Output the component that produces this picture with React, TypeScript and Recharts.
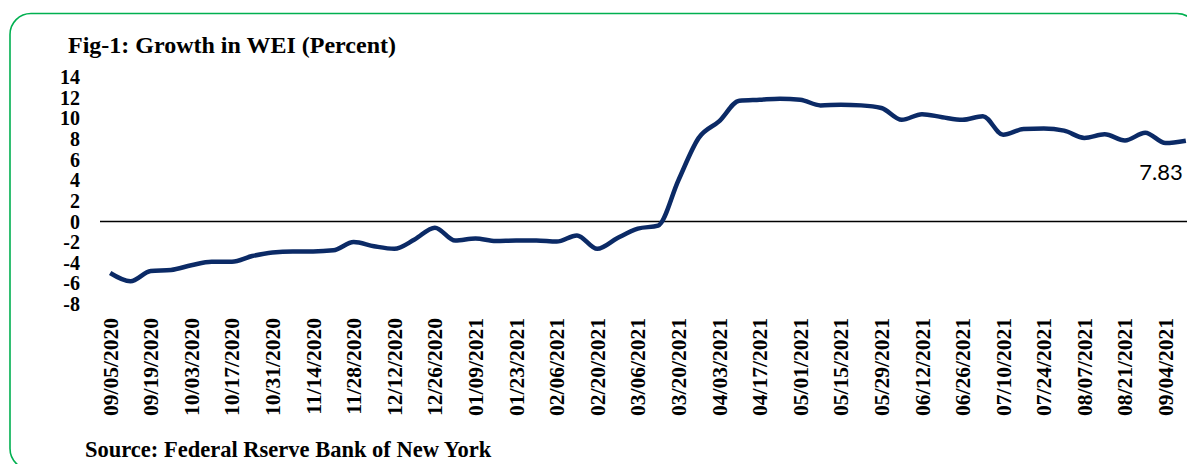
import React from 'react';
import { LineChart, Line, XAxis, YAxis, ReferenceLine, LabelList } from 'recharts';

// --- Data (weekly WEI growth, percent) ---
const weeks = [
  '09/05/2020', '09/12/2020', '09/19/2020', '09/26/2020', '10/03/2020', '10/10/2020',
  '10/17/2020', '10/24/2020', '10/31/2020', '11/07/2020', '11/14/2020', '11/21/2020',
  '11/28/2020', '12/05/2020', '12/12/2020', '12/19/2020', '12/26/2020', '01/02/2021',
  '01/09/2021', '01/16/2021', '01/23/2021', '01/30/2021', '02/06/2021', '02/13/2021',
  '02/20/2021', '02/27/2021', '03/06/2021', '03/13/2021', '03/20/2021', '03/27/2021',
  '04/03/2021', '04/10/2021', '04/17/2021', '04/24/2021', '05/01/2021', '05/08/2021',
  '05/15/2021', '05/22/2021', '05/29/2021', '06/05/2021', '06/12/2021', '06/19/2021',
  '06/26/2021', '07/03/2021', '07/10/2021', '07/17/2021', '07/24/2021', '07/31/2021',
  '08/07/2021', '08/14/2021', '08/21/2021', '08/28/2021', '09/04/2021', '09/11/2021',
];

const wei = [
  -5.0, -5.8, -4.8, -4.7, -4.25, -3.9,
  -3.9, -3.35, -3.0, -2.9, -2.9, -2.8,
  -2.0, -2.4, -2.65, -1.75, -0.6, -1.85,
  -1.65, -1.9, -1.85, -1.85, -1.95, -1.35,
  -2.65, -1.6, -0.7, -0.4, 4.0, 8.1,
  9.7, 11.7, 11.8, 11.9, 11.8, 11.25,
  11.3, 11.25, 11.0, 9.85, 10.4, 10.1,
  9.85, 10.2, 8.4, 8.95, 9.0, 8.8,
  8.1, 8.45, 7.85, 8.6, 7.6, 7.83,
];

const yTicks = [-8, -6, -4, -2, 0, 2, 4, 6, 8, 10, 12, 14];

const data = weeks.map((w, i) => ({ week: w, value: wei[i] }));

const SERIF = '"Liberation Serif", "Times New Roman", serif';
const NAVY = '#0b2a66';

// rotated date labels, reading bottom to top
const DateTick = ({ x, y, payload }: any) => (
  <g transform={`translate(${x},${y})`}>
    <text
      transform="rotate(-90)"
      x={-6}
      y={0}
      dy="0.35em"
      textAnchor="end"
      fontFamily={SERIF}
      fontWeight="bold"
      fontSize={21.5}
      fill="#000"
    >
      {payload.value}
    </text>
  </g>
);

// only the last point carries a value label (kept inside the frame)
const LastLabel = ({ x, y, value, index }: any) => {
  if (index !== wei.length - 1) return null;
  return (
    <text x={x - 3} y={y + 39} textAnchor="end" fontFamily="Lato, sans-serif" fontSize={22} fill="#000">
      {value}
    </text>
  );
};

export default function App() {
  return (
    <div style={{ position: 'absolute', left: 0, top: 0, width: 1187, height: 464, overflow: 'hidden', background: '#fff' }}>
      <svg width={1187} height={464} style={{ position: 'absolute', left: 0, top: 0 }}>
        <rect x={10} y={13.5} width={1188} height={456} rx={21} ry={21} fill="none" stroke="#00b050" strokeWidth={1.6} />
        <text x={68} y={53} fontFamily={SERIF} fontWeight="bold" fontSize={24} fill="#000">
          Fig-1: Growth in WEI (Percent)
        </text>
        <text x={85} y={457} fontFamily={SERIF} fontWeight="bold" fontSize={22.5} fill="#000">
          Source: Federal Rserve Bank of New York
        </text>
      </svg>
      <div style={{ position: 'absolute', left: 0, top: 0 }}>
        <LineChart width={1200} height={464} data={data} margin={{ top: 77, right: 4, bottom: 0, left: 0 }}>
          <XAxis
            dataKey="week"
            scale="band"
            interval={1}
            axisLine={false}
            tickLine={false}
            height={160}
            tick={<DateTick />}
          />
          <YAxis
            domain={[-8, 14]}
            ticks={yTicks}
            width={100}
            axisLine={false}
            tickLine={false}
            tickMargin={14}
            interval={0}
            tick={{ fontFamily: SERIF, fontWeight: 'bold', fontSize: 20, fill: '#000' }}
          />
          <ReferenceLine y={0} stroke="#000" strokeWidth={1.5} />
          <Line
            type="monotone"
            dataKey="value"
            stroke={NAVY}
            strokeWidth={4.5}
            dot={false}
            isAnimationActive={false}
          >
            <LabelList dataKey="value" content={<LastLabel />} />
          </Line>
        </LineChart>
      </div>
    </div>
  );
}
